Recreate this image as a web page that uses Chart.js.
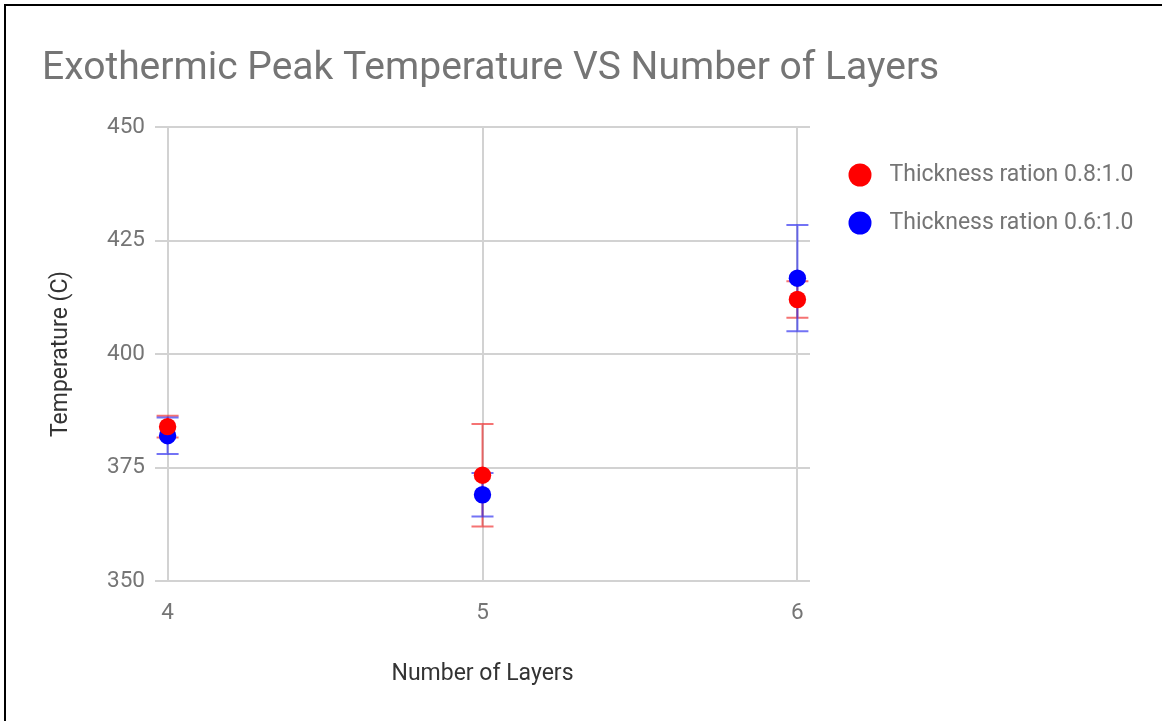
<!DOCTYPE html>
<html lang="en">
<head>
  <meta charset="UTF-8">
  <title>Exothermic Peak Temperature VS Number of Layers</title>
  <style>
    body {
      margin: 0;
      background: #fff;
      overflow: hidden;
    }
    #frame {
      position: absolute;
      left: 4px;
      top: 4px;
      width: 1156px;
      height: 715px;
      border-left: 2px solid #000;
      border-top: 2px solid #000;
    }
  </style>
</head>
<body>

  <div id="frame">
    <canvas id="peakChart" width="1156" height="715"></canvas>
  </div>

  <script src="https://cdn.jsdelivr.net/npm/chart.js"></script>

  <script>
    // measured peak temperatures (C) and their error bars
    const layers   = [4, 5, 6];
    const yTicks   = [350, 375, 400, 425, 450];
    const temp08   = [384, 373.3, 412];
    const err08    = [2.4, 11.3, 4];
    const temp06   = [382, 369, 416.7];
    const err06    = [4, 4.8, 11.7];
    const labels   = ['Thickness ration 0.8:1.0', 'Thickness ration 0.6:1.0'];
    const errors   = [err08, err06];

    const RED  = '#ff0000';
    const BLUE = '#0000ff';
    const errColors = ['rgba(240, 40, 40, 0.65)', 'rgba(40, 40, 240, 0.65)'];
    const FONT = 'Roboto';
    const LEGEND_WIDTH = 340;

    const toPoints = vals => layers.map((l, i) => ({ x: l, y: vals[i] }));

    // round legend marker drawn onto a small canvas
    function dot(color) {
      const c = document.createElement('canvas');
      c.width = 24; c.height = 24;
      const g = c.getContext('2d');
      g.fillStyle = color;
      g.beginPath();
      g.arc(12, 12, 11.5, 0, Math.PI * 2);
      g.fill();
      return c;
    }

    // vertical bars with caps, drawn under the points
    const errorBars = {
      id: 'errorBars',
      beforeDatasetsDraw(chart) {
        const { ctx, scales: { x, y } } = chart;
        chart.data.datasets.forEach((ds, i) => {
          if (!chart.isDatasetVisible(i)) return;
          ctx.save();
          ctx.strokeStyle = errColors[i];
          ctx.lineWidth = 2;
          ds.data.forEach((p, j) => {
            const px = x.getPixelForValue(p.x);
            const hi = y.getPixelForValue(p.y + errors[i][j]);
            const lo = y.getPixelForValue(p.y - errors[i][j]);
            ctx.beginPath();
            ctx.moveTo(px, hi); ctx.lineTo(px, lo);
            ctx.moveTo(px - 11, hi); ctx.lineTo(px + 11, hi);
            ctx.moveTo(px - 11, lo); ctx.lineTo(px + 11, lo);
            ctx.stroke();
          });
          ctx.restore();
        });
      }
    };

    // fixed-width legend, set a little away from the plot
    const legendPlacement = {
      id: 'legendPlacement',
      afterInit(chart) {
        const lg = chart.legend;
        const fit = lg.fit.bind(lg);
        lg.fit = () => { fit(); lg.width = LEGEND_WIDTH; };
      },
      afterLayout(chart) {
        const lg = chart.legend;
        lg.left += 7; lg.right += 7;
        lg.top += 11.5;
      }
    };

    const ctx = document.getElementById('peakChart').getContext('2d');
    new Chart(ctx, {
      type: 'scatter',
      data: {
        datasets: [
          { label: labels[0], data: toPoints(temp08), backgroundColor: RED, borderWidth: 0, pointRadius: 8.7, pointHoverRadius: 8.7 },
          { label: labels[1], data: toPoints(temp06), backgroundColor: BLUE, borderWidth: 0, pointRadius: 8.7, pointHoverRadius: 8.7 }
        ]
      },
      options: {
        responsive: false,
        animation: false,
        layout: { padding: { left: 36, right: 12, top: 0, bottom: 0 } },
        plugins: {
          title: {
            display: true,
            text: 'Exothermic Peak Temperature VS Number of Layers',
            align: 'start',
            color: '#757575',
            font: { family: FONT, size: 39, weight: 'normal' },
            padding: { top: 40, bottom: 34.2 }
          },
          legend: {
            position: 'right',
            align: 'start',
            fullSize: false,
            labels: {
              usePointStyle: true,
              pointStyleWidth: 36,
              padding: 25,
              color: '#757575',
              font: { family: FONT, size: 23 },
              generateLabels: chart => chart.data.datasets.map((ds, i) => ({
                text: ds.label,
                pointStyle: dot(ds.backgroundColor),
                fillStyle: ds.backgroundColor,
                strokeStyle: ds.backgroundColor,
                lineWidth: 0,
                fontColor: '#757575',
                hidden: !chart.isDatasetVisible(i),
                datasetIndex: i
              }))
            }
          },
          tooltip: { enabled: false }
        },
        scales: {
          x: {
            type: 'linear',
            min: 3.96,
            max: 6.04,
            afterBuildTicks: s => { s.ticks = layers.map(v => ({ value: v })); },
            afterFit: s => { s.height = 140; },
            grid: { color: '#d2d2d2', lineWidth: 2, drawTicks: false },
            border: { display: false },
            ticks: { color: '#757575', padding: 19, font: { family: FONT, size: 22.5 } },
            title: {
              display: true,
              text: 'Number of Layers',
              color: '#333',
              font: { family: FONT, size: 23 },
              padding: { top: 0, bottom: 33 }
            }
          },
          y: {
            min: 350,
            max: 450,
            afterBuildTicks: s => { s.ticks = yTicks.map(v => ({ value: v })); },
            afterFit: s => { s.width = 113; },
            grid: { color: '#d2d2d2', lineWidth: 2, drawTicks: false },
            border: { display: false },
            ticks: { color: '#757575', padding: 10, font: { family: FONT, size: 22.5 } },
            title: {
              display: true,
              text: 'Temperature (C)',
              color: '#333',
              font: { family: FONT, size: 23 },
              padding: { top: 5, bottom: 0 }
            }
          }
        }
      },
      plugins: [errorBars, legendPlacement]
    });
  </script>

</body>
</html>
